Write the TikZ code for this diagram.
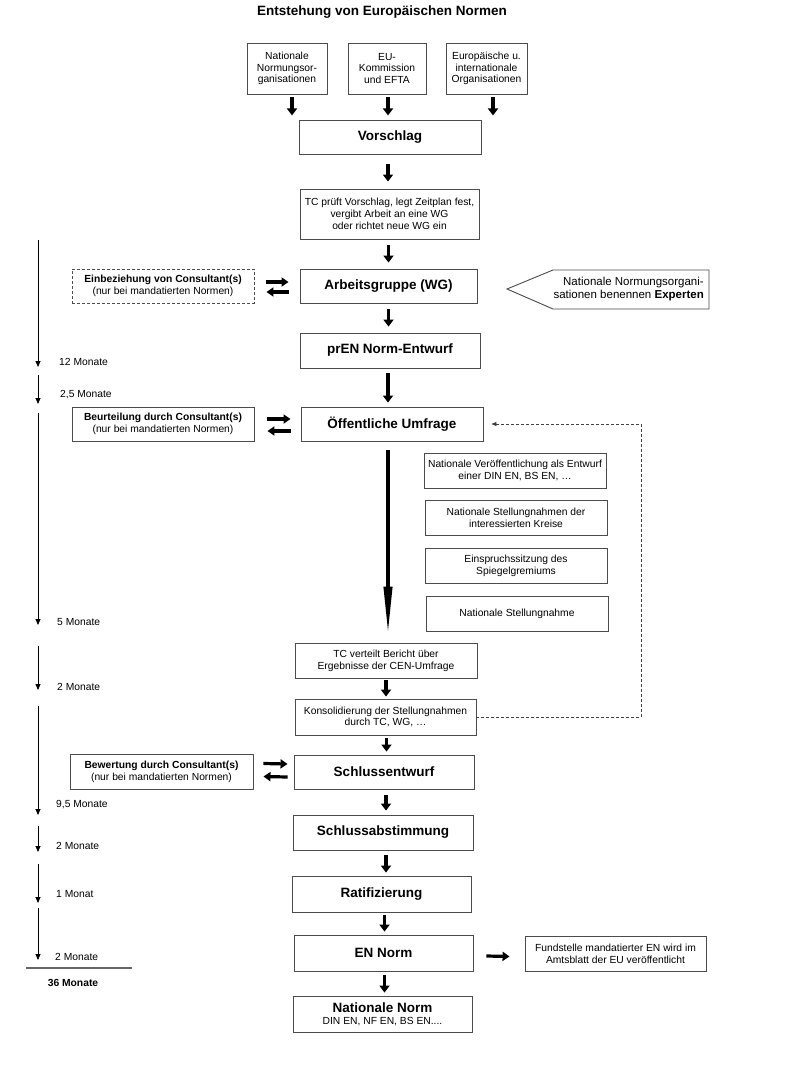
\documentclass[tikz,border=0pt]{standalone}
\usepackage{fontspec}
\setmainfont{Liberation Sans}
\usetikzlibrary{arrows.meta}
\newcommand\smf{\fontsize{10.3}{11.8}\selectfont}
\newcommand\bgf{\fontsize{13.5}{15}\selectfont\bfseries}
\begin{document}
\begin{tikzpicture}[x=1pt,y=-1pt,
  box/.style={draw=black!70, line width=0.9pt, align=center, inner sep=1pt, font=\smf},
  sz/.style 2 args={minimum width=#1pt, minimum height=#2pt},
  big/.style={font=\bgf},
  dbox/.style={box, dash pattern=on 3pt off 2pt},
  fatarrow/.style 2 args={draw=black, line width=3.6pt, shorten <=#1pt, shorten >=#2pt, -{Triangle[length=7pt,width=10pt]}},
  hfat/.style={draw=black, line width=3.2pt, -{Triangle[length=7pt,width=9pt]}},
  longarrow/.style={draw=black, line width=4pt, shorten <=9pt, shorten >=6pt, -{Triangle[length=50pt,width=8pt]}},
  tl/.style={draw=black, line width=0.8pt, -{Triangle[length=6pt,width=5pt]}},
  tlabel/.style={anchor=west, font=\smf, inner sep=0pt},
  fb/.style={draw=black!75, line width=0.7pt, dash pattern=on 3pt off 2pt, -{Triangle[length=5pt,width=4pt]}}
]
\useasboundingbox (0,0) rectangle (786,1081);
\fill[white] (0,0) rectangle (786,1081);

\node[font=\bgf] (title) at (382,12) {Entstehung von Europäischen Normen};

% top sources
\node[box,sz={80}{51}] (nno) at (287,68.5) {Nationale\\Normungsor-\\ganisationen};
\node[box,sz={78}{51}] (euk) at (387,68.5) {EU-\\Kommission\\und EFTA};
\node[box,sz={81}{51}] (eio) at (486.5,68.5) {Europäische u.\\internationale\\Organisationen};

% main column
\node[box,big,sz={182}{34}] (vor) at (390,137) {Vorschlag};
\node[box,sz={179}{50}] (tcp) at (389.5,214) {TC prüft Vorschlag, legt Zeitplan fest,\\vergibt Arbeit an eine WG\\oder richtet neue WG ein};
\node[box,big,sz={177}{34}] (wg) at (388.5,286) {Arbeitsgruppe (WG)};
\node[box,big,sz={180}{35}] (pren) at (390,350.5) {prEN Norm-Entwurf};
\node[box,big,sz={182}{34}] (umf) at (392,424) {Öffentliche Umfrage};
\node[box,sz={182}{35}] (tcv) at (386,660.5) {TC verteilt Bericht über\\Ergebnisse der CEN-Umfrage};
\node[box,sz={181}{36}] (kon) at (385.5,717) {Konsolidierung der Stellungnahmen\\durch TC, WG, \dots};
\node[box,big,sz={180}{34}] (sen) at (384,772) {Schlussentwurf};
\node[box,big,sz={180}{35}] (sab) at (383,832.5) {Schlussabstimmung};
\node[box,big,sz={179}{36}] (rat) at (381.5,894) {Ratifizierung};
\node[box,big,sz={179}{36}] (enn) at (383.5,953) {EN Norm};
\node[box,sz={179}{36}] (nat) at (382.5,1014) {{\bgf Nationale Norm}\\DIN EN, NF EN, BS EN....};

% consultant boxes
\node[dbox,sz={182}{34}] (ein) at (163,286) {\textbf{Einbeziehung von Consultant(s)}\\(nur bei mandatierten Normen)};
\node[box,sz={182}{34}] (beu) at (163,424) {\textbf{Beurteilung durch Consultant(s)}\\(nur bei mandatierten Normen)};
\node[box,sz={183}{35}] (bew) at (161.5,771.5) {\textbf{Bewertung durch Consultant(s)}\\(nur bei mandatierten Normen)};

% national boxes on the right
\node[box,sz={182}{35}] (ra) at (515,470.5) {Nationale Veröffentlichung als Entwurf\\einer DIN EN, BS EN, \dots};
\node[box,sz={182}{35}] (rb) at (516,517.5) {Nationale Stellungnahmen der\\interessierten Kreise};
\node[box,sz={182}{35}] (rc) at (516,565.5) {Einspruchssitzung des\\Spiegelgremiums};
\node[box,sz={182}{35}] (rd) at (517,613.5) {Nationale Stellungnahme};
\node[box,sz={181}{35}] (fun) at (615.5,953.5) {Fundstelle mandatierter EN wird im\\Amtsblatt der EU veröffentlicht};

% callout
\draw[draw=black!70, line width=0.9pt] (507,289) -- (553,270) -- (709,270) -- (709,309) -- (553,309) -- cycle;
\node[anchor=east, align=right, inner sep=0pt, font=\fontsize{11.5}{13.5}\selectfont] (exp) at (704,289) {Nationale Normungsorgani-\\sationen benennen \textbf{Experten}};

% arrows from sources
\draw[draw=black, line width=3.6pt, -{Triangle[length=7pt,width=10pt]}] ([xshift=5pt,yshift=-3pt]nno.south) -- ([xshift=5pt,yshift=-21pt]nno.south);
\draw[draw=black, line width=3.6pt, -{Triangle[length=7pt,width=10pt]}] ([xshift=1pt,yshift=-3pt]euk.south) -- ([xshift=1pt,yshift=-21pt]euk.south);
\draw[draw=black, line width=3.6pt, -{Triangle[length=7pt,width=10pt]}] ([xshift=6.5pt,yshift=-3pt]eio.south) -- ([xshift=6.5pt,yshift=-21pt]eio.south);

% main flow arrows
\draw[fatarrow={10}{7}] ([xshift=-2pt]vor.south) -- ([xshift=-2pt]vor.south |- tcp.north);
\draw[fatarrow={6}{6}] ([xshift=-1pt]tcp.south) -- ([xshift=-1pt]tcp.south |- wg.north);
\draw[fatarrow={6}{6}] (wg.south) -- (wg.south |- pren.north);
\draw[fatarrow={5}{4}] ([xshift=-2pt]pren.south) -- ([xshift=-2pt]pren.south |- umf.north);
\draw[longarrow] ([xshift=-4pt]umf.south) -- ([xshift=-4pt]umf.south |- tcv.north);
\draw[fatarrow={2}{2}] (tcv.south) -- (tcv.south |- kon.north);
\draw[fatarrow={3}{3}] ([xshift=1pt]kon.south) -- ([xshift=1pt]kon.south |- sen.north);
\draw[fatarrow={6}{4}] ([xshift=2pt]sen.south) -- ([xshift=2pt]sen.south |- sab.north);
\draw[fatarrow={5}{3}] ([xshift=3pt]sab.south) -- ([xshift=3pt]sab.south |- rat.north);
\draw[fatarrow={3}{3}] ([xshift=3pt]rat.south) -- ([xshift=3pt]rat.south |- enn.north);
\draw[fatarrow={4}{3}] ([xshift=1pt]enn.south) -- ([xshift=1pt]enn.south |- nat.north);
\draw[hfat] ([xshift=13pt,yshift=-3pt]enn.east) -- ([xshift=-15pt,yshift=-3pt]fun.west);

% double arrows to consultants
\draw[hfat] ([xshift=12pt,yshift=4pt]ein.east) -- ([xshift=-11pt,yshift=4pt]wg.west);
\draw[hfat] ([xshift=-11pt,yshift=-6pt]wg.west) -- ([xshift=12pt,yshift=-6pt]ein.east);
\draw[hfat] ([xshift=13pt,yshift=5pt]beu.east) -- ([xshift=-10pt,yshift=5pt]umf.west);
\draw[hfat] ([xshift=-10pt,yshift=-7pt]umf.west) -- ([xshift=13pt,yshift=-7pt]beu.east);
\draw[hfat] ([xshift=10pt,yshift=8pt]bew.east) -- ([xshift=-6pt,yshift=8pt]sen.west);
\draw[hfat] ([xshift=-6pt,yshift=-5pt]sen.west) -- ([xshift=10pt,yshift=-5pt]bew.east);

% feedback
\coordinate (fbc) at (641,424);
\draw[fb] (kon.east) -| (fbc) -- ([xshift=8pt]umf.east);

% timeline
\foreach \a/\b in {240/367, 375/404, 413/625, 646/690, 706/815, 826/852, 864/903, 908/960}
  \draw[tl] (38,\a) -- (38,\b);
\node[tlabel] (m1) at (59,362) {12 Monate};
\node[tlabel] (m2) at (60,395) {2,5 Monate};
\node[tlabel] (m3) at (57,622) {5 Monate};
\node[tlabel] (m4) at (57,687) {2 Monate};
\node[tlabel] (m5) at (56,805) {9,5 Monate};
\node[tlabel] (m6) at (56,846) {2 Monate};
\node[tlabel] (m7) at (56,894) {1 Monat};
\node[tlabel] (m8) at (55,957) {2 Monate};
\draw[draw=black!60, line width=1.5pt] (26,968) -- (132,968);
\node[font=\smf\bfseries] (total) at (73,983) {36 Monate};
\end{tikzpicture}
\end{document}
